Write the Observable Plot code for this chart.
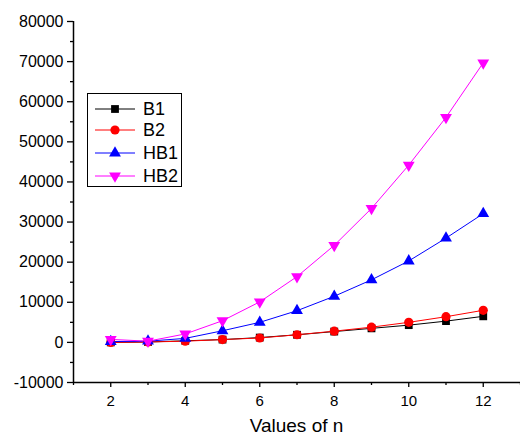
<!DOCTYPE html>
<html>
<head>
<meta charset="utf-8">
<script src="https://cdn.jsdelivr.net/npm/d3@7"></script>
<script src="https://cdn.jsdelivr.net/npm/@observablehq/plot@0.6"></script>
<style>
  html, body { margin: 0; padding: 0; background: #fff; }
  #wrap { position: relative; width: 520px; height: 436px; font-family: "Liberation Sans", Arial, sans-serif; }
  #chart svg { display: block; }
  #legend { position: absolute; left: 87px; top: 93px; width: 95px; height: 94px; border: 1px solid #000; box-sizing: border-box; background: #fff; }
  .item { position: absolute; left: 0; height: 20px; display: flex; align-items: center; }
  .item span { font-size: 18px; margin-left: 7px; line-height: 20px; }
  #xlabel { position: absolute; left: 73px; width: 447px; top: 416px; text-align: center; font-size: 19px; line-height: 20px; }
</style>
</head>
<body>
<div id="wrap">
  <div id="chart"></div>
  <div id="legend"></div>
  <div id="xlabel">Values of n</div>
</div>
<script>
const n = [2, 3, 4, 5, 6, 7, 8, 9, 10, 11, 12];
const B1 = [0, 100, 400, 700, 1200, 1900, 2700, 3500, 4300, 5300, 6500];
const B2 = [0, 100, 300, 700, 1100, 1900, 2800, 3800, 5000, 6400, 8000];
const HB1 = [200, 300, 1000, 2900, 5000, 7900, 11500, 15600, 20300, 26000, 32100];
const HB2 = [750, 300, 2100, 5400, 10100, 16400, 24200, 33400, 44200, 56100, 69700];
const seriesNames = ["B1", "B2", "HB1", "HB2"];
const seriesValues = [B1, B2, HB1, HB2];
const colors = ["#000000", "#ff0000", "#0000ff", "#ff00ff"];
const xTicks = [2, 4, 6, 8, 10, 12];
const xMinor = [1, 3, 5, 7, 9, 11, 13];
const yTicks = [-10000, 0, 10000, 20000, 30000, 40000, 50000, 60000, 70000, 80000];
const yMinor = [-5000, 5000, 15000, 25000, 35000, 45000, 55000, 65000, 75000];

const triangleDown = {
  draw(context, size) {
    const sqrt3 = Math.sqrt(3);
    const y = -Math.sqrt(size / (sqrt3 * 3));
    context.moveTo(0, -y * 2);
    context.lineTo(-sqrt3 * y, y);
    context.lineTo(sqrt3 * y, y);
    context.closePath();
  }
};
const symbols = ["square", "circle", "triangle", triangleDown];
const radii = [4.4, 4.6, 4.4, 4.4];

const marks = [];
seriesNames.forEach((name, i) => {
  const data = n.map((x, j) => ({x, y: seriesValues[i][j]}));
  marks.push(Plot.line(data, {x: "x", y: "y", stroke: colors[i], strokeWidth: 1}));
});
seriesNames.forEach((name, i) => {
  const data = n.map((x, j) => ({x, y: seriesValues[i][j]}));
  marks.push(Plot.dot(data, {x: "x", y: "y", fill: colors[i], stroke: "none", symbol: () => symbols[i], r: radii[i]}));
});

const chart = Plot.plot({
  width: 520,
  height: 436,
  marginLeft: 73,
  marginRight: 0,
  marginTop: 21,
  marginBottom: 54,
  style: {fontFamily: "Liberation Sans, Arial, sans-serif", fontSize: "15px", color: "#000", background: "#fff"},
  x: {domain: [1, 13]},
  y: {domain: [-10000, 80000]},
  marks: [
    Plot.axisX({ticks: xTicks, tickSize: 5, tickPadding: 8, tickFormat: d => String(d), label: null, fontSize: 15, strokeWidth: 1.3}),
    Plot.axisX({ticks: xMinor, tickSize: 3, text: null, label: null, strokeWidth: 1.3}),
    Plot.axisY({ticks: yTicks, tickSize: 6, tickPadding: 4, tickFormat: d => String(d), label: null, fontSize: 16, strokeWidth: 1.3}),
    Plot.axisY({ticks: yMinor, tickSize: 3, text: null, label: null, strokeWidth: 1.3}),
    Plot.ruleX([1], {stroke: "#000", strokeWidth: 1.5}),
    Plot.ruleY([-10000], {stroke: "#000", strokeWidth: 1.5}),
    ...marks
  ]
});
document.getElementById("chart").appendChild(chart);

// Legend
const legend = document.getElementById("legend");
const rowTops = [5, 26, 49, 72];
seriesNames.forEach((name, i) => {
  const item = document.createElement("div");
  item.className = "item";
  item.style.top = rowTops[i] + "px";
  const svg = d3.create("svg").attr("width", 48).attr("height", 20);
  svg.append("line").attr("x1", 7).attr("x2", 47).attr("y1", 10).attr("y2", 10).attr("stroke", colors[i]).attr("stroke-width", 1);
  const sym = typeof symbols[i] === "string"
    ? {square: d3.symbolSquare, circle: d3.symbolCircle, triangle: d3.symbolTriangle}[symbols[i]]
    : symbols[i];
  svg.append("path").attr("transform", "translate(27,10)").attr("fill", colors[i])
    .attr("d", d3.symbol(sym, Math.PI * radii[i] * radii[i])());
  item.appendChild(svg.node());
  const span = document.createElement("span");
  span.textContent = name;
  item.appendChild(span);
  legend.appendChild(item);
});
</script>
</body>
</html>
